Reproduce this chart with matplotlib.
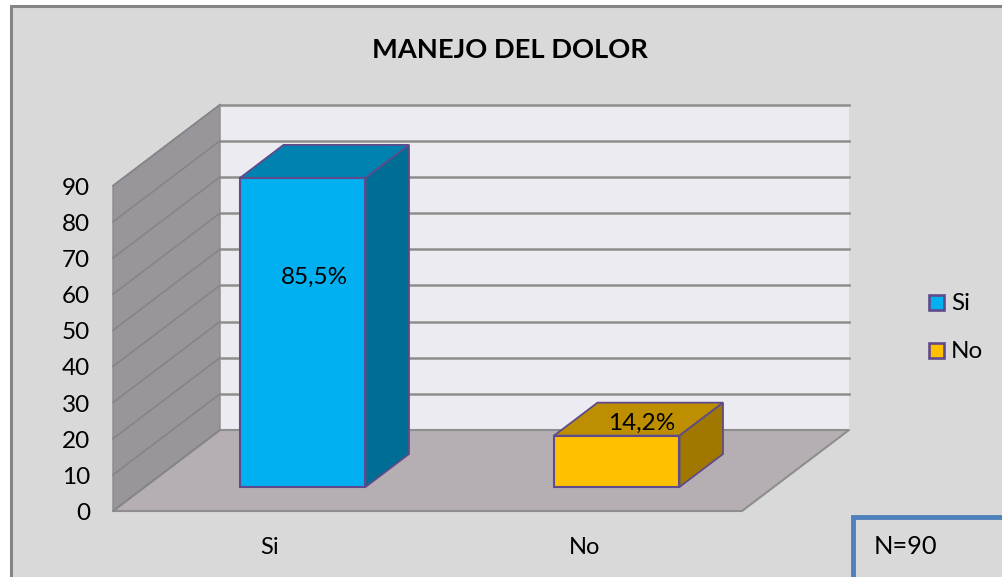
import matplotlib
matplotlib.use("Agg")
import matplotlib.pyplot as plt
from matplotlib.patches import Polygon, Rectangle

plt.rcParams['font.family'] = ['Lato', 'DejaVu Sans']

# ---------------------------
# Data
# ---------------------------
title = "MANEJO DEL DOLOR"
categories = ["Si", "No"]
values = [85.5, 14.2]
value_labels = ["85,5%", "14,2%"]
y_ticks = [0, 10, 20, 30, 40, 50, 60, 70, 80, 90]
note = "N=90"

# ---------------------------
# Fake 3D geometry (pixels of the 1003x577 picture)
# ---------------------------
W, H = 1003, 577
x0, x1 = 113, 742      # front edge of floor
y0 = 511               # value 0 on the front edge
dx, dy = 107, -81      # depth of the chart box
scale = 3.615          # pixels per unit
bar_left = [240, 554]
bar_width = 125.5
bar_base = 487
bar_dx, bar_dy = 43.5, -33

front_colors = ["#00b0f0", "#ffc000"]
top_colors = ["#0082b0", "#bd8e00"]
side_colors = ["#006d94", "#a07800"]
edge = "#5f4b8b"
line = "#8e8e8e"

fig = plt.figure(figsize=(W / 100, H / 100), dpi=100, facecolor="white")
ax = fig.add_axes([0, 0, 1, 1])
ax.set_xlim(0, W)
ax.set_ylim(H, 0)
ax.axis("off")


def val_y(v, base=y0):
    return base - v * scale


# chart area background and frame
ax.add_patch(Rectangle((11, 6), W, H, fc="#d9d9d9", ec="#858585", lw=2.2))

# walls and floor
top = val_y(y_ticks[-1])
ax.add_patch(Polygon([(x0 + dx, y0 + dy), (x1 + dx, y0 + dy), (x1 + dx, top + dy), (x0 + dx, top + dy)],
                     fc="#ecebf2", ec="none"))
ax.add_patch(Polygon([(x0, y0), (x0 + dx, y0 + dy), (x0 + dx, top + dy), (x0, top)],
                     fc="#98969a", ec="#8a8a8a", lw=1))
ax.add_patch(Polygon([(x0, y0), (x1, y0), (x1 + dx, y0 + dy), (x0 + dx, y0 + dy)],
                     fc="#b5afb3", ec="#8e8e8e", lw=1.5))

# gridlines
for v in y_ticks:
    y = val_y(v)
    ax.plot([x0, x0 + dx], [y, y + dy], color="#868488", lw=1.2, zorder=2)
    ax.plot([x0 + dx, x1 + dx], [y + dy, y + dy], color=line, lw=1.8 if v else 1.2, zorder=2)
    ax.text(90, y + 2.5, str(v), ha="right", va="center", fontsize=17.5, color="black")

# bars
for i, v in enumerate(values):
    l = bar_left[i]
    r = l + bar_width
    t = val_y(v, bar_base)
    ax.add_patch(Polygon([(l, t), (r, t), (r + bar_dx, t + bar_dy), (l + bar_dx, t + bar_dy)],
                         fc=top_colors[i], ec=edge, lw=1.3, zorder=3))
    ax.add_patch(Polygon([(r, t), (r + bar_dx, t + bar_dy), (r + bar_dx, bar_base + bar_dy), (r, bar_base)],
                         fc=side_colors[i], ec=edge, lw=1.3, zorder=3))
    ax.add_patch(Rectangle((l, t), bar_width, v * scale, fc=front_colors[i], ec=edge, lw=1.5, zorder=4))

ax.text(314, 277, value_labels[0], ha="center", va="center", fontsize=17.5, zorder=5)
ax.text(642, 423, value_labels[1], ha="center", va="center", fontsize=17.5, zorder=5)

# category labels
ax.text(270, 548, categories[0], ha="center", va="center", fontsize=17)
ax.text(585, 548, categories[1], ha="center", va="center", fontsize=17)

# title
ax.text(510, 50, title, ha="center", va="center", fontsize=19.6, fontweight="bold")

# legend
legend_y = [302, 350]
for i, name in enumerate(categories):
    ax.add_patch(Rectangle((929, legend_y[i] - 7), 15, 15, fc=front_colors[i], ec=edge, lw=1.9))
    ax.text(951, legend_y[i] + 1, name, ha="left", va="center", fontsize=17.5)

# N box
ax.add_patch(Rectangle((853, 517), 200, 100, fc="#d9d9d9", ec="#4f81bd", lw=3.5, zorder=6))
ax.text(874, 547, note, ha="left", va="center", fontsize=18.3, zorder=7)

fig.savefig("out.png", dpi=100)
